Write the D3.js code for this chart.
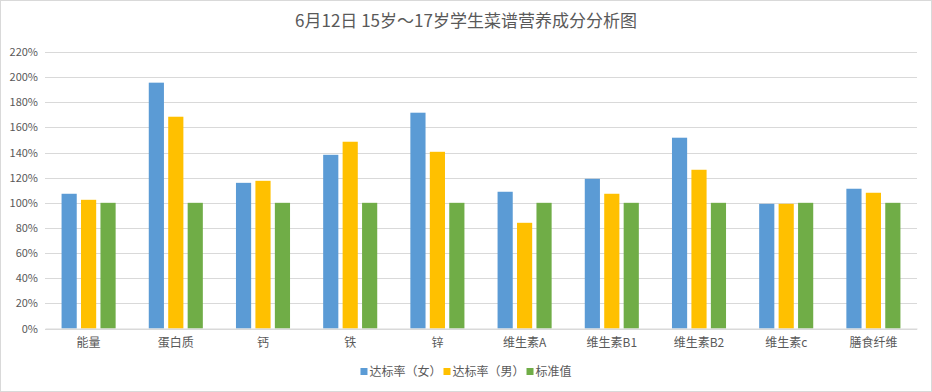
<!DOCTYPE html>
<html>
<head>
<meta charset="utf-8">
<script src="https://cdn.jsdelivr.net/npm/d3@7"></script>
<style>
  body { margin: 0; background: #fff; }
  svg { display: block; font-family: "Noto Sans CJK SC", "Noto Sans", sans-serif; }
</style>
</head>
<body>
<svg id="chart" width="932" height="392"></svg>
<script>
const categories = ["能量", "蛋白质", "钙", "铁", "锌", "维生素A", "维生素B1", "维生素B2", "维生素c", "膳食纤维"];
const seriesNames = ["达标率（女）", "达标率（男）", "标准值"];
const female = [1.072, 1.956, 1.159, 1.382, 1.717, 1.088, 1.191, 1.518, 0.992, 1.112];
const male = [1.024, 1.685, 1.175, 1.486, 1.406, 0.841, 1.072, 1.263, 0.992, 1.080];
const standard = [1, 1, 1, 1, 1, 1, 1, 1, 1, 1];
const yTicks = [0, 0.2, 0.4, 0.6, 0.8, 1.0, 1.2, 1.4, 1.6, 1.8, 2.0, 2.2];
const colors = ["#5b9bd5", "#ffc000", "#70ad47"];

const svg = d3.select("#chart");
const W = 932, H = 392;
const margin = { left: 45, right: 15, top: 52, bottom: 63.5 };
const width = W - margin.left - margin.right,
      height = H - margin.top - margin.bottom;

// outer border
svg.append("rect")
    .attr("x", 0.5).attr("y", 0.5)
    .attr("width", W - 1).attr("height", H - 1)
    .attr("fill", "#fff").attr("stroke", "#d9d9d9");

svg.append("text")
    .attr("x", W / 2).attr("y", 27)
    .attr("text-anchor", "middle")
    .attr("font-size", 17)
    .attr("fill", "#595959")
    .text("6月12日 15岁～17岁学生菜谱营养成分分析图");

const data = categories.map((c, i) => ({ cat: c, values: [female[i], male[i], standard[i]] }));

const x = d3.scaleBand().domain(categories).range([0, width]);
const xInner = d3.scaleBand().domain([0, 1, 2])
    .range([0, x.bandwidth() * 0.62]).paddingInner(0.22);
const y = d3.scaleLinear().domain([0, 2.2]).range([height, 0]);

const chart = svg.append("g").attr("transform", `translate(${margin.left},${margin.top})`);

// gridlines
chart.append("g")
    .selectAll("line")
    .data(yTicks)
    .join("line")
    .attr("x1", 0).attr("x2", width)
    .attr("y1", d => Math.round(y(d)) + 0.5)
    .attr("y2", d => Math.round(y(d)) + 0.5)
    .attr("stroke", "#d9d9d9");

// y axis labels
const yAxis = d3.axisLeft(y).tickValues(yTicks)
    .tickFormat(d3.format(".0%"))
    .tickSize(0).tickPadding(7);
chart.append("g").call(yAxis)
    .call(g => g.select(".domain").remove())
    .selectAll("text")
    .attr("font-size", 11)
    .attr("fill", "#595959")
    .attr("font-family", "'Noto Sans CJK SC', sans-serif");

// bars
const groups = chart.selectAll(".grp")
    .data(data)
    .join("g")
    .attr("class", "grp")
    .attr("transform", d => `translate(${x(d.cat) + x.bandwidth() * 0.19},0)`);
groups.selectAll("rect")
    .data(d => d.values)
    .join("rect")
    .attr("x", (d, i) => xInner(i))
    .attr("width", xInner.bandwidth())
    .attr("y", d => y(d))
    .attr("height", d => y(0) - y(d))
    .attr("fill", (d, i) => colors[i]);

// x axis
const xAxis = d3.axisBottom(x).tickSize(0).tickPadding(10);
chart.append("g")
    .attr("transform", `translate(0,${height})`)
    .call(xAxis)
    .call(g => g.select(".domain").attr("stroke", "#d9d9d9"))
    .selectAll("text")
    .attr("font-size", 12)
    .attr("fill", "#595959")
    .attr("font-family", "'Noto Sans CJK SC', sans-serif");

// legend, centred under the chart
const legend = svg.append("g");
let lx = 0;
seriesNames.forEach((name, i) => {
    const item = legend.append("g").attr("transform", `translate(${lx},0)`);
    item.append("rect").attr("x", 0).attr("y", -4).attr("width", 7).attr("height", 7).attr("fill", colors[i]);
    const t = item.append("text").attr("x", 9).attr("y", 4)
        .attr("font-size", 12).attr("fill", "#595959").text(name);
    lx += 9 + t.node().getComputedTextLength() + 2;
});
legend.attr("transform", `translate(${(W - lx) / 2 + 1},372)`);
</script>
</body>
</html>
